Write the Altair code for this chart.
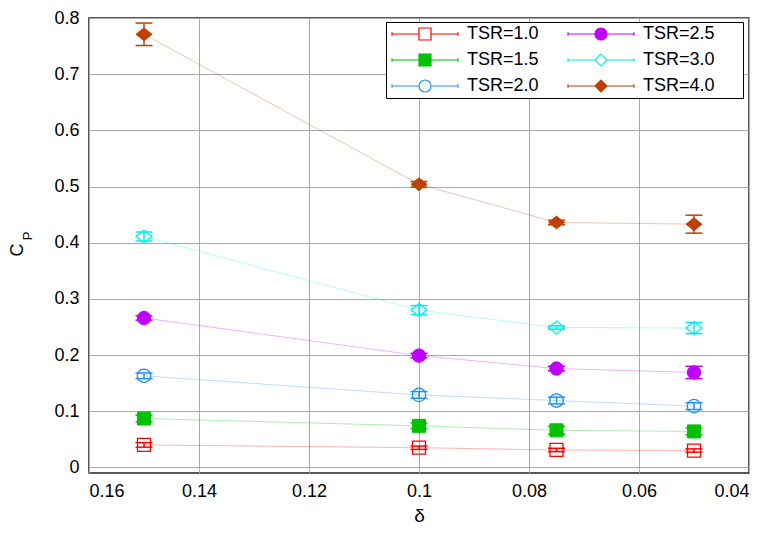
import altair as alt
import pandas as pd

# ---- data ----
delta = [0.15, 0.1, 0.075, 0.05]
series = ["TSR=1.0", "TSR=1.5", "TSR=2.0", "TSR=2.5", "TSR=3.0", "TSR=4.0"]

cp_tsr10 = [0.040, 0.035, 0.031, 0.030]
er_tsr10 = [0.004, 0.003, 0.003, 0.003]
cp_tsr15 = [0.087, 0.074, 0.066, 0.064]
er_tsr15 = [0.006, 0.005, 0.007, 0.006]
cp_tsr20 = [0.163, 0.129, 0.119, 0.109]
er_tsr20 = [0.005, 0.006, 0.006, 0.006]
cp_tsr25 = [0.266, 0.199, 0.176, 0.169]
er_tsr25 = [0.004, 0.004, 0.004, 0.011]
cp_tsr30 = [0.411, 0.280, 0.249, 0.248]
er_tsr30 = [0.008, 0.008, 0.003, 0.010]
cp_tsr40 = [0.771, 0.504, 0.436, 0.433]
er_tsr40 = [0.020, 0.005, 0.004, 0.016]

cps = [cp_tsr10, cp_tsr15, cp_tsr20, cp_tsr25, cp_tsr30, cp_tsr40]
ers = [er_tsr10, er_tsr15, er_tsr20, er_tsr25, er_tsr30, er_tsr40]

x_ticks = [0.16, 0.14, 0.12, 0.1, 0.08, 0.06, 0.04]
y_ticks = [0, 0.1, 0.2, 0.3, 0.4, 0.5, 0.6, 0.7, 0.8]

rows = []
for s, cp, er in zip(series, cps, ers):
    for d, c, e in zip(delta, cp, er):
        rows.append({"series": s, "delta": d, "cp": c, "lo": c - e, "hi": c + e})
df = pd.DataFrame(rows)

# ---- styles ----
colors = {"TSR=1.0": "#ff0000", "TSR=1.5": "#00c000", "TSR=2.0": "#1f8fff",
          "TSR=2.5": "#c000ff", "TSR=3.0": "#00eeee", "TSR=4.0": "#c04000"}
filled = {"TSR=1.0": False, "TSR=1.5": True, "TSR=2.0": False,
          "TSR=2.5": True, "TSR=3.0": False, "TSR=4.0": True}
DIAMOND = "M-1,0L0,-0.8L1,0L0,0.8Z"
marker = {"TSR=1.0": ("square", 169), "TSR=1.5": ("square", 169),
          "TSR=2.0": ("circle", 180), "TSR=2.5": ("circle", 180),
          "TSR=3.0": (DIAMOND, 256), "TSR=4.0": (DIAMOND, 256)}

# legend fills column-major: natural order
order = series

# legend sample: line with end caps, marker in the middle; a zero-length
# segment on the right reserves the empty space the reference legend has
line_part = "M-1,0H3.5M5.5,0H10M-1,-0.3V0.3M10,-0.3V0.3M27.2,0L27.2,0"
sq = "M3.5,-1H5.5V1H3.5Z"
ci = "M5.5,0A1,1 0 1,1 3.5,0A1,1 0 1,1 5.5,0Z"
di = "M3.5,0L4.5,-1L5.5,0L4.5,1Z"
legend_paths = {"TSR=1.0": line_part + sq, "TSR=1.5": line_part + sq,
                "TSR=2.0": line_part + ci, "TSR=2.5": line_part + ci,
                "TSR=3.0": line_part + di, "TSR=4.0": line_part + di}

stroke_scale = alt.Scale(domain=order, range=[colors[s] for s in order])
fill_scale = alt.Scale(domain=order, range=[colors[s] if filled[s] else "transparent" for s in order])
shape_scale = alt.Scale(domain=order, range=[legend_paths[s] for s in order])

FONT = "Liberation Sans"

x_enc = alt.X("delta:Q",
              scale=alt.Scale(domain=[0.04, 0.16], reverse=True, nice=False, zero=False),
              axis=alt.Axis(values=x_ticks, labelExpr="format(datum.value, '.2~f')",
                            title="δ", labelPadding=9, titlePadding=6))
y_enc = alt.Y("cp:Q",
              scale=alt.Scale(domain=[-0.01, 0.8], nice=False, zero=False),
              axis=alt.Axis(values=y_ticks, labelExpr="format(datum.value, '.1~f')",
                            title=None, labelPadding=10))

base = alt.Chart(df)

layers = []
for i, s in enumerate(series):
    c = colors[s]
    sub = base.transform_filter(alt.datum.series == s)
    layers.append(sub.mark_line(strokeWidth=1, opacity=0.3, color=c).encode(
        x=x_enc if i == 0 else "delta:Q", y=y_enc if i == 0 else "cp:Q"))
for s in series:
    c = colors[s]
    sub = base.transform_filter(alt.datum.series == s)
    layers.append(sub.mark_rule(strokeWidth=1.5, color=c).encode(x="delta:Q", y="lo:Q", y2="hi:Q"))
    layers.append(sub.mark_tick(orient="horizontal", size=17, thickness=1.5, opacity=1, color=c).encode(
        x="delta:Q", y="lo:Q"))
    layers.append(sub.mark_tick(orient="horizontal", size=17, thickness=1.5, opacity=1, color=c).encode(
        x="delta:Q", y="hi:Q"))
    shp, sz = marker[s]
    if filled[s]:
        pm = sub.mark_point(shape=shp, size=sz, filled=True, color=c, stroke=c, strokeWidth=1, opacity=1)
    else:
        pm = sub.mark_point(shape=shp, size=sz, filled=False, color=c, strokeWidth=1.3, opacity=1)
    layers.append(pm.encode(x="delta:Q", y="cp:Q"))

leg = dict(title=None, orient="none", legendX=297, legendY=4, columns=2,
           symbolSize=144, symbolStrokeWidth=1.2, labelOffset=60, labelFontSize=18,
           labelFont=FONT, labelColor="black", padding=3, rowPadding=8, columnPadding=1,
           strokeColor="black", fillColor="white")

legend_layer = base.transform_filter("false").mark_point(opacity=1, strokeWidth=1.2).encode(
    stroke=alt.Stroke("series:N", scale=stroke_scale, legend=alt.Legend(**leg)),
    fill=alt.Fill("series:N", scale=fill_scale, legend=alt.Legend(**leg)),
    shape=alt.Shape("series:N", scale=shape_scale, legend=alt.Legend(**leg)))
layers.append(legend_layer)

c_title = alt.Chart(pd.DataFrame({"t": ["C"]})).mark_text(
    angle=270, fontSize=18, font=FONT, align="center", baseline="middle", color="black").encode(
    x=alt.value(-71), y=alt.value(232), text="t:N")
p_title = alt.Chart(pd.DataFrame({"t": ["P"]})).mark_text(
    angle=270, fontSize=13, font=FONT, align="center", baseline="middle", color="black").encode(
    x=alt.value(-61), y=alt.value(218), text="t:N")
layers += [c_title, p_title]

chart = alt.layer(*layers).properties(
    width=660, height=455,
    autosize=alt.AutoSizeParams(type="none"),
    padding={"left": 81, "top": 10, "right": 10, "bottom": 52},
).configure_view(stroke="#222222", strokeWidth=1.5).configure_axis(
    gridColor="#a8a8a8", gridWidth=1, domain=False, ticks=False,
    labelFont=FONT, labelFontSize=18, labelColor="black",
    titleFont=FONT, titleFontSize=19, titleColor="black", titleFontWeight="normal",
)

chart.save("out.html", embed_options={"renderer": "svg", "actions": False})
